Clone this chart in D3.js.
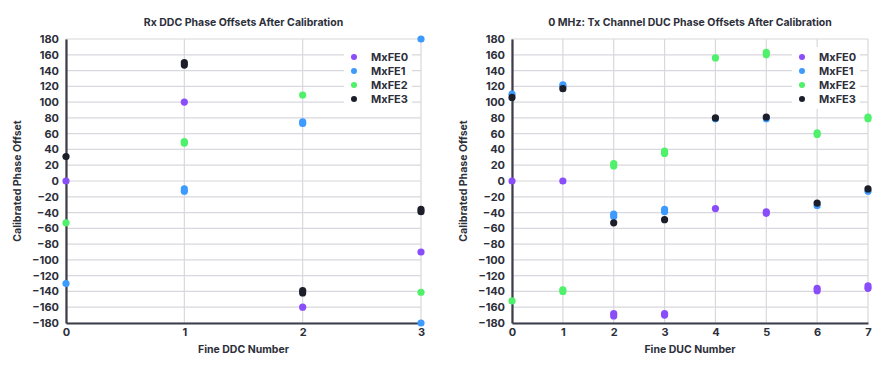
<!DOCTYPE html>
<html>
<head>
<meta charset="utf-8">
<script src="https://cdn.jsdelivr.net/npm/d3@7"></script>
<style>
  html, body { margin: 0; padding: 0; background: #fff; }
  svg { display: block; }
  text { font-family: Inter, "Open Sans", sans-serif; font-weight: 700; fill: #2d2f3a; }
</style>
</head>
<body>
<svg id="chart" width="879" height="367"></svg>
<script>
// ---------- data ----------
const seriesNames = ["MxFE0", "MxFE1", "MxFE2", "MxFE3"];
const seriesColors = ["#8a4dfa", "#3d9bff", "#4ff06a", "#1c1e29"];
const yTicks = d3.range(-180, 181, 20);

// Left chart: Rx DDC (each entry = samples at that fine DDC number)
const rxTitle = "Rx DDC Phase Offsets After Calibration";
const rxXLabel = "Fine DDC Number";
const rxFine = [0, 1, 2, 3];
const rxMxFE0 = [[0], [100], [-160], [-90]];
const rxMxFE1 = [[-130], [-13, -10], [73, 75], [180, -180]];
const rxMxFE2 = [[-53], [48, 50], [109], [-141]];
const rxMxFE3 = [[31], [147, 150], [-142, -139], [-39, -36]];

// Right chart: Tx DUC
const txTitle = "0 MHz: Tx Channel DUC Phase Offsets After Calibration";
const txXLabel = "Fine DUC Number";
const txFine = [0, 1, 2, 3, 4, 5, 6, 7];
const txMxFE0 = [[0], [0], [-171, -168], [-170, -168], [-35], [-41, -39], [-139, -136], [-136, -133]];
const txMxFE1 = [[110], [120, 122], [-45, -42], [-39, -36], [79], [79], [-31], [-13]];
const txMxFE2 = [[-152], [-140, -138], [19, 22], [35, 38], [156], [160, 163], [59, 61], [79, 81]];
const txMxFE3 = [[106], [117], [-53], [-49], [80], [81], [-28], [-10]];

const svg = d3.select("#chart");

function drawChart(cfg) {
  const { x0, x1, y0, y1, fine, series, title, xLabel, legendX } = cfg;
  const g = svg.append("g");
  const x = d3.scaleLinear().domain([d3.min(fine), d3.max(fine)]).range([x0, x1]);
  const y = d3.scaleLinear().domain([-180, 180]).range([y1, y0]);

  // grid
  g.append("g").selectAll("line.h").data(yTicks).join("line")
    .attr("x1", x0).attr("x2", x1)
    .attr("y1", d => y(d)).attr("y2", d => y(d))
    .attr("stroke", "#d8d8de").attr("stroke-width", 1.2);
  g.append("g").selectAll("line.v").data(fine).join("line")
    .attr("x1", d => x(d)).attr("x2", d => x(d))
    .attr("y1", y0).attr("y2", y1)
    .attr("stroke", "#d8d8de").attr("stroke-width", 1.2);

  // legend background
  const legY = 57, legStep = 14;
  g.append("rect")
    .attr("x", legendX - 10).attr("y", legY - 10)
    .attr("width", 68).attr("height", legStep * 3 + 20)
    .attr("fill", "#fff");

  // axes
  const yAxis = d3.axisLeft(y).tickValues(yTicks).tickSize(0).tickPadding(7);
  const ya = g.append("g").attr("transform", `translate(${x0},0)`).call(yAxis);
  ya.select(".domain").attr("stroke", "#3b3d48").attr("stroke-width", 2.2);
  ya.selectAll("text").style("font-size", "11px").attr("fill", "#2d2f3a");

  const xAxis = d3.axisBottom(x).tickValues(fine).tickFormat(d3.format("d")).tickSize(0).tickPadding(5);
  const xa = g.append("g").attr("transform", `translate(0,${y1})`).call(xAxis);
  xa.select(".domain").attr("stroke", "#3b3d48").attr("stroke-width", 2.2);
  xa.selectAll("text").style("font-size", "11px").attr("fill", "#2d2f3a");

  // points
  series.forEach((vals, si) => {
    const pts = [];
    vals.forEach((arr, i) => arr.forEach(v => pts.push([fine[i], v])));
    g.append("g").selectAll("circle").data(pts).join("circle")
      .attr("cx", d => x(d[0])).attr("cy", d => y(d[1]))
      .attr("r", 3.6).attr("fill", seriesColors[si]);
  });

  // legend
  seriesNames.forEach((n, i) => {
    g.append("circle").attr("cx", legendX).attr("cy", legY + i * legStep)
      .attr("r", 3).attr("fill", seriesColors[i]);
    g.append("text").attr("x", legendX + 17).attr("y", legY + i * legStep)
      .attr("dy", "0.35em").style("font-size", "11px").text(n);
  });

  // title
  g.append("text").attr("x", (x0 + x1) / 2).attr("y", 22)
    .attr("text-anchor", "middle").attr("dy", "0.35em")
    .style("font-size", "10.5px").text(title);
  // x label
  g.append("text").attr("x", (x0 + x1) / 2).attr("y", 349)
    .attr("text-anchor", "middle").attr("dy", "0.35em")
    .style("font-size", "10.5px").text(xLabel);
  // y label
  g.append("text").attr("transform", `translate(${x0 - 49},${(y0 + y1) / 2}) rotate(-90)`)
    .attr("text-anchor", "middle").attr("dy", "0.35em")
    .style("font-size", "10.5px").text("Calibrated Phase Offset");
}

drawChart({
  x0: 66, x1: 421, y0: 39, y1: 323, fine: rxFine,
  series: [rxMxFE0, rxMxFE1, rxMxFE2, rxMxFE3],
  title: rxTitle, xLabel: rxXLabel, legendX: 354
});
drawChart({
  x0: 512, x1: 868, y0: 39, y1: 323, fine: txFine,
  series: [txMxFE0, txMxFE1, txMxFE2, txMxFE3],
  title: txTitle, xLabel: txXLabel, legendX: 802
});
</script>
</body>
</html>
